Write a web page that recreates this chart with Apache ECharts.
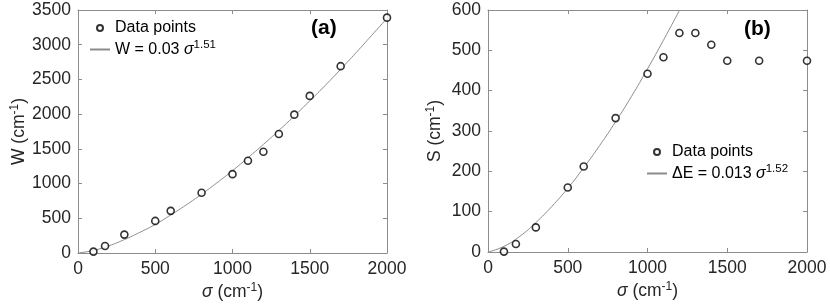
<!DOCTYPE html>
<html>
<head>
<meta charset="utf-8">
<script src="https://cdn.jsdelivr.net/npm/echarts@6/dist/echarts.min.js"></script>
<style>html,body{margin:0;padding:0;background:#fff;}#c{width:830px;height:307px;}</style>
</head>
<body>
<div id="c"></div>
<script>
// Panel (a) data points
var sigmaPts = [100, 175, 300, 500, 600, 800, 1000, 1100, 1200, 1300, 1400, 1500, 1700, 2000];
var wPts = [20, 100, 265, 462, 607, 867, 1136, 1329, 1459, 1714, 1993, 2263, 2691, 3390];
// Panel (a) fitted curve
var sigmaFitA = [0, 100, 200, 300, 400, 500, 600, 700, 800, 900, 1000, 1100, 1200, 1300, 1400, 1500, 1600, 1700, 1800, 1900, 2000];
var wFit = [0, 37, 104, 193, 297, 411, 548, 692, 847, 1012, 1186, 1372, 1564, 1765, 1974, 2191, 2413, 2646, 2886, 3133, 3380];
// Panel (b) data points
var sPts = [1, 20, 61, 160, 212, 332, 442, 483, 543, 543, 514, 474, 474, 474];
// Panel (b) fitted curve
var sigmaFitB = [0, 100, 200, 300, 400, 500, 600, 700, 800, 900, 1000, 1100, 1200];
var sFit = [0, 14, 39, 73, 113, 158, 209, 264, 323, 386, 454, 525, 599];
// Tick settings
var xTicks = {min: 0, max: 2000, interval: 500};
var yTicksA = {min: 0, max: 3500, interval: 500};
var yTicksB = {min: 0, max: 600, interval: 100};

function zip(a, b) { return a.map(function (v, i) { return [v, b[i]]; }); }

var FONT = 'Liberation Sans';
var TXT = '#262626';
var AX = '#8c8c8c';
var TICK_FS = 17.5;

var supRich = {
  n: {fontSize: TICK_FS, fontFamily: FONT, color: TXT},
  i: {fontSize: TICK_FS, fontFamily: FONT, color: TXT, fontStyle: 'italic'},
  s: {fontSize: 12, fontFamily: FONT, color: TXT, padding: [0, 0, 9, 0]}
};
var legRich = {
  n: {fontSize: 16, fontFamily: FONT, color: '#000'},
  i: {fontSize: 16, fontFamily: FONT, color: '#000', fontStyle: 'italic'},
  s: {fontSize: 11.5, fontFamily: FONT, color: '#000', padding: [0, 0, 9, 0]}
};
function plain(v) { return String(v); }

function xAxis(grid, pos) {
  var bottom = pos === 'bottom';
  return {
    type: 'value', gridIndex: grid, position: pos,
    min: xTicks.min, max: xTicks.max, interval: xTicks.interval,
    axisLine: {show: true, onZero: false, lineStyle: {color: AX, width: 1}},
    axisTick: {show: true, inside: true, length: 4, lineStyle: {color: AX}},
    axisLabel: {show: bottom, fontSize: TICK_FS, fontFamily: FONT, color: TXT, margin: 7, formatter: plain},
    splitLine: {show: false},
    name: bottom ? '{i|σ}{n| (cm}{s|-1}{n|)}' : '',
    nameLocation: 'middle', nameGap: 29, nameMoveOverlap: false,
    nameTextStyle: {rich: supRich}
  };
}
function yAxis(grid, pos, ticks, name) {
  var left = pos === 'left';
  return {
    type: 'value', gridIndex: grid, position: pos,
    min: ticks.min, max: ticks.max, interval: ticks.interval,
    axisLine: {show: true, onZero: false, lineStyle: {color: AX, width: 1}},
    axisTick: {show: true, inside: true, length: 4, lineStyle: {color: AX}},
    axisLabel: {show: left, fontSize: TICK_FS, fontFamily: FONT, color: TXT, margin: 7, formatter: plain},
    splitLine: {show: false},
    name: left ? name : '',
    nameLocation: 'middle', nameGap: left && grid === 0 ? 47 : 42,
    nameTextStyle: {rich: supRich}
  };
}

var chart = echarts.init(document.getElementById('c'), null, {renderer: 'canvas'});
chart.setOption({
  animation: false,
  backgroundColor: '#fff',
  grid: [
    {left: 78, top: 10, width: 309, height: 243},
    {left: 488, top: 10, width: 319, height: 242}
  ],
  xAxis: [xAxis(0, 'bottom'), xAxis(0, 'top'), xAxis(1, 'bottom'), xAxis(1, 'top')],
  yAxis: [
    yAxis(0, 'left', yTicksA, '{n|W (cm}{s|-1}{n|)}'),
    yAxis(0, 'right', yTicksA, ''),
    yAxis(1, 'left', yTicksB, '{n|S (cm}{s|-1}{n|)}'),
    yAxis(1, 'right', yTicksB, '')
  ],
  legend: [
    {
      orient: 'vertical', left: 90, top: 20, padding: 0, itemWidth: 20, itemHeight: 6, itemGap: 3,
      data: [
        {name: 'Data points A', icon: 'circle'},
        {name: 'Fit A', icon: 'path://M0,0 L10,0 L10,1 L0,1 Z'}
      ],
      formatter: function (n) { return n === 'Fit A' ? '{n|W = 0.03 }{i|σ}{s|1.51}' : '{n|Data points}'; },
      textStyle: {rich: legRich},
      selectedMode: false
    },
    {
      orient: 'vertical', left: 647, top: 144, padding: 0, itemWidth: 20, itemHeight: 6, itemGap: 3,
      data: [
        {name: 'Data points B', icon: 'circle'},
        {name: 'Fit B', icon: 'path://M0,0 L10,0 L10,1 L0,1 Z'}
      ],
      formatter: function (n) { return n === 'Fit B' ? '{n|ΔE = 0.013 }{i|σ}{s|1.52}' : '{n|Data points}'; },
      textStyle: {rich: legRich},
      selectedMode: false
    }
  ],
  graphic: [
    {type: 'text', left: 311, top: 18, style: {text: '(a)', font: 'bold 21px "Liberation Sans"', fill: '#000'}},
    {type: 'text', left: 744, top: 19, style: {text: '(b)', font: 'bold 21px "Liberation Sans"', fill: '#000'}}
  ],
  series: [
    {
      name: 'Fit A', type: 'line', xAxisIndex: 0, yAxisIndex: 0, data: zip(sigmaFitA, wFit),
      smooth: true, showSymbol: false, lineStyle: {color: '#8c8c8c', width: 1}, itemStyle: {color: '#8c8c8c'}, z: 2
    },
    {
      name: 'Data points A', type: 'scatter', xAxisIndex: 0, yAxisIndex: 0, data: zip(sigmaPts, wPts),
      symbol: 'circle', symbolSize: 7, itemStyle: {color: '#fff', borderColor: '#000', borderWidth: 1.6}, z: 3
    },
    {
      name: 'Fit B', type: 'line', xAxisIndex: 2, yAxisIndex: 2, data: zip(sigmaFitB, sFit),
      smooth: true, showSymbol: false, lineStyle: {color: '#8c8c8c', width: 1}, itemStyle: {color: '#8c8c8c'}, z: 2
    },
    {
      name: 'Data points B', type: 'scatter', xAxisIndex: 2, yAxisIndex: 2, data: zip(sigmaPts, sPts),
      symbol: 'circle', symbolSize: 7, itemStyle: {color: '#fff', borderColor: '#000', borderWidth: 1.6}, z: 3
    }
  ]
});
</script>
</body>
</html>
